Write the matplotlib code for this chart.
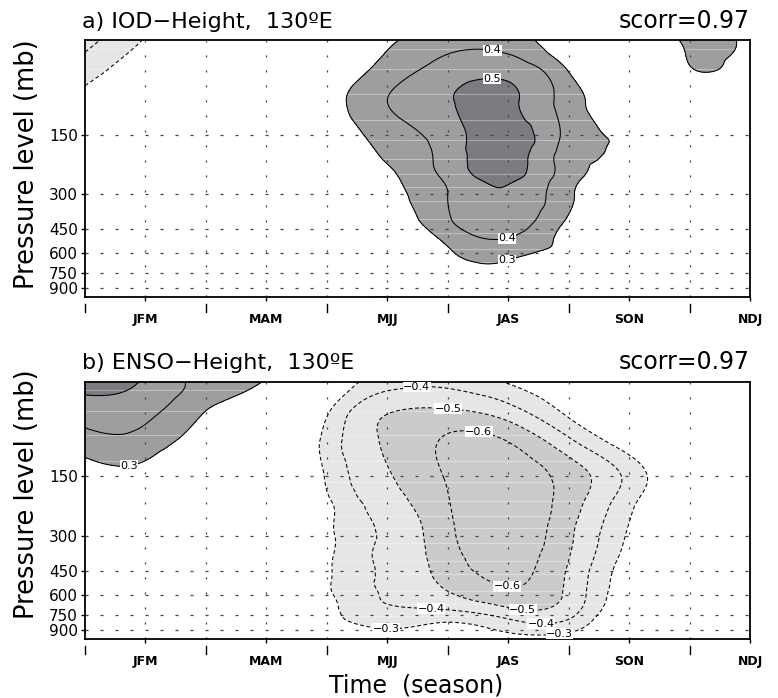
import numpy as np
import matplotlib
matplotlib.use("Agg")
import matplotlib.pyplot as plt
import matplotlib.tri as mtri
from matplotlib.ticker import NullLocator, FixedLocator

plt.rcParams["font.family"] = ["DejaVu Sans"]
plt.rcParams["lines.scale_dashes"] = False

# running 3-month seasons, one per month
seasons = ["DJF", "JFM", "FMA", "MAM", "AMJ", "MJJ",
           "JJA", "JAS", "ASO", "SON", "OND", "NDJ"]
months = np.arange(len(seasons))
labeled = [1, 3, 5, 7, 9, 11]

# pressure levels (mb), surface to top
levels = np.array([1000, 925, 850, 700, 600, 500, 400, 300, 250, 200, 150, 100, 70, 50])
p_ticks = [150, 300, 450, 600, 750, 900]

# IOD correlation with geopotential height at 130E (rows follow `levels`)
iod_corr = np.array([
    [-0.05, -0.05, -0.08, -0.12, -0.15, -0.31, 0.00, 0.05, 0.03, 0.00, 0.00, 0.00],
    [-0.03, -0.03, -0.05, -0.08, -0.12, -0.15, 0.08, 0.12, 0.05, 0.02, 0.00, 0.00],
    [-0.02, -0.02, -0.03, -0.05, -0.08, -0.05, 0.12, 0.18, 0.08, 0.03, 0.00, 0.00],
    [0.00, 0.00, 0.00, -0.02, -0.02, 0.05, 0.22, 0.27, 0.12, 0.05, 0.02, 0.00],
    [-0.02, 0.00, 0.00, 0.00, 0.00, 0.10, 0.28, 0.33, 0.22, 0.07, 0.03, 0.02],
    [-0.03, 0.00, 0.00, 0.02, 0.03, 0.15, 0.33, 0.40, 0.25, 0.10, 0.04, 0.02],
    [-0.05, -0.02, 0.02, 0.03, 0.05, 0.20, 0.39, 0.46, 0.29, 0.13, 0.05, 0.02],
    [-0.10, -0.04, 0.00, 0.03, 0.08, 0.25, 0.40, 0.49, 0.32, 0.17, 0.07, 0.03],
    [-0.12, -0.05, 0.00, 0.04, 0.10, 0.27, 0.42, 0.52, 0.34, 0.20, 0.08, 0.03],
    [-0.15, -0.08, 0.00, 0.05, 0.15, 0.31, 0.44, 0.55, 0.35, 0.27, 0.10, 0.04],
    [-0.20, -0.10, -0.02, 0.08, 0.20, 0.35, 0.45, 0.56, 0.37, 0.27, 0.12, 0.05],
    [-0.26, -0.15, -0.05, 0.12, 0.25, 0.40, 0.49, 0.52, 0.35, 0.22, 0.15, 0.08],
    [-0.35, -0.22, -0.08, 0.08, 0.20, 0.34, 0.44, 0.46, 0.29, 0.12, 0.29, 0.18],
    [-0.43, -0.29, -0.10, 0.05, 0.15, 0.28, 0.36, 0.35, 0.18, 0.05, 0.34, 0.25],
])

# ENSO correlation with geopotential height at 130E
enso_corr = np.array([
    [-0.01, -0.01, -0.02, -0.04, -0.10, -0.20, -0.20, -0.22, -0.22, -0.08, -0.02, -0.01],
    [-0.02, -0.02, -0.04, -0.06, -0.15, -0.27, -0.25, -0.30, -0.30, -0.10, -0.02, -0.02],
    [-0.03, -0.03, -0.05, -0.08, -0.22, -0.32, -0.285, -0.35, -0.36, -0.12, -0.03, -0.02],
    [-0.02, -0.02, -0.04, -0.06, -0.26, -0.39, -0.41, -0.49, -0.45, -0.17, -0.04, -0.02],
    [0.00, 0.00, -0.02, -0.04, -0.276, -0.409, -0.486, -0.57, -0.476, -0.20, -0.05, -0.02],
    [0.02, 0.02, 0.00, -0.02, -0.281, -0.415, -0.53, -0.615, -0.482, -0.22, -0.06, -0.02],
    [0.03, 0.03, 0.02, 0.00, -0.276, -0.418, -0.556, -0.64, -0.50, -0.25, -0.08, -0.02],
    [0.05, 0.06, 0.03, 0.00, -0.268, -0.417, -0.575, -0.67, -0.52, -0.285, -0.10, -0.02],
    [0.08, 0.10, 0.05, 0.00, -0.271, -0.427, -0.583, -0.68, -0.532, -0.303, -0.10, -0.02],
    [0.12, 0.15, 0.08, 0.00, -0.28, -0.457, -0.595, -0.67, -0.552, -0.333, -0.12, -0.02],
    [0.22, 0.25, 0.12, 0.00, -0.313, -0.49, -0.61, -0.66, -0.558, -0.371, -0.15, -0.03],
    [0.36, 0.36, 0.22, 0.00, -0.336, -0.514, -0.615, -0.598, -0.423, -0.23, -0.08, -0.02],
    [0.45, 0.43, 0.30, 0.10, -0.28, -0.49, -0.51, -0.44, -0.27, -0.12, -0.05, -0.01],
    [0.53, 0.49, 0.37, 0.28, -0.15, -0.35, -0.37, -0.29, -0.20, -0.12, -0.05, -0.01],
])

shade_levels = [-1.0, -0.5, -0.3, 0.3, 0.5, 1.0]
shade_colors = ["#cbcbce", "#e6e6e8", "white", "#9e9ea1", "#7c7c80"]
pos_lines = [0.3, 0.4, 0.5]
neg_lines = [-0.6, -0.5, -0.4, -0.3]

panels = [
    dict(title="a) IOD\u2212Height,  130\u00baE", scorr="scorr=0.97", z=iod_corr,
         pos_lab=[(6.73, 58.6), (6.73, 84), (6.98, 500), (6.98, 648)],
         neg_lab=[], ylab_y=0.52),
    dict(title="b) ENSO\u2212Height,  130\u00baE", scorr="scorr=0.97", z=enso_corr,
         pos_lab=[(0.72, 128)],
         neg_lab=[(5.49, 55), (6.01, 67), (6.51, 90), (6.98, 544), (7.24, 703),
                  (5.73, 673), (7.55, 800), (4.98, 900), (7.85, 950)],
         ylab_y=0.565),
]

XSCALE = 0.7  # month spacing relative to one ln(p) unit


def smooth_field(z):
    xx, pp = np.meshgrid(months, levels)
    tri = mtri.Triangulation(xx.ravel() * XSCALE, np.log(pp).ravel())
    interp = mtri.CubicTriInterpolator(tri, z.ravel(), kind="min_E")
    tri_f, z_f = mtri.UniformTriRefiner(tri).refine_field(
        z.ravel(), triinterpolator=interp, subdiv=4)
    tri_p = mtri.Triangulation(tri_f.x / XSCALE, np.exp(tri_f.y), tri_f.triangles)
    return tri_p, z_f


def fmt(v):
    return f"{v:.1f}".replace("-", "\u2212")


fig = plt.figure(figsize=(7.78, 6.98), dpi=100)
axes = [fig.add_axes([0.1093, 0.5741, 0.8548, 0.3679]),
        fig.add_axes([0.1093, 0.0841, 0.8548, 0.3690])]

for ax, pan in zip(axes, panels):
    ax.set_yscale("log")
    tri_p, zf = smooth_field(pan["z"])
    ax.tricontourf(tri_p, zf, levels=shade_levels, colors=shade_colors, zorder=1)

    # faint banding inside the shaded areas
    for p in [55, 70, 93, 126, 160, 200, 238, 275, 325, 400, 470, 570, 660, 760, 850, 950]:
        ax.axhline(p, color="white", lw=0.8, alpha=0.35, zorder=1.5)

    # dotted grid
    for m in months[1:-1]:
        ax.axvline(m, color="#444444", lw=0.9, dashes=(1.5, 9.3), zorder=2)
    for p in p_ticks:
        ax.axhline(p, color="#444444", lw=0.9, dashes=(2.2, 8.6), zorder=2)

    cs_pos = ax.tricontour(tri_p, zf, levels=pos_lines, colors="black",
                           linewidths=0.75, linestyles="solid", zorder=3)
    cs_neg = ax.tricontour(tri_p, zf, levels=neg_lines, colors="black",
                           linewidths=0.75, linestyles=[(0, (2.8, 1.8))], zorder=3)

    for cs, pts in [(cs_pos, pan["pos_lab"]), (cs_neg, pan["neg_lab"])]:
        if not pts:
            continue
        labs = cs.clabel(manual=pts, inline=False, fmt=fmt, fontsize=8, zorder=4)
        for t in labs:
            t.set_rotation(0)
            t.set_bbox(dict(facecolor="white", edgecolor="none", pad=0.3))

    ax.set_xlim(0, 11)
    ax.set_ylim(1000, 50)

    ax.xaxis.set_major_locator(FixedLocator(labeled))
    ax.set_xticklabels([seasons[i] for i in labeled], fontsize=9, fontweight="bold")
    ax.xaxis.set_minor_locator(NullLocator())
    ax.tick_params(axis="x", direction="out", length=3, width=1, pad=8.5)
    # detached marks between the labelled seasons
    for m in months[::2]:
        ax.plot([m, m], [-0.026, -0.058], color="black", lw=1.0,
                transform=ax.get_xaxis_transform(), clip_on=False)

    ax.yaxis.set_major_locator(FixedLocator(p_ticks))
    ax.set_yticklabels([str(p) for p in p_ticks], fontsize=11)
    ax.yaxis.set_minor_locator(NullLocator())
    ax.tick_params(axis="y", direction="out", length=3, width=1, pad=2)

    for s in ax.spines.values():
        s.set_linewidth(1.3)

    ax.text(-0.004, 1.05, pan["title"], transform=ax.transAxes, fontsize=16,
            ha="left", va="baseline")
    ax.text(1.0, 1.05, pan["scorr"], transform=ax.transAxes, fontsize=17,
            ha="right", va="baseline")
    ax.text(-0.087, pan["ylab_y"], "Pressure level (mb)", transform=ax.transAxes,
            fontsize=18.5, rotation=90, ha="center", va="center")

fig.text(416.5 / 778, 1 - 685 / 698, "Time  (season)", fontsize=17,
         ha="center", va="center")

fig.savefig("out.png", dpi=100)
